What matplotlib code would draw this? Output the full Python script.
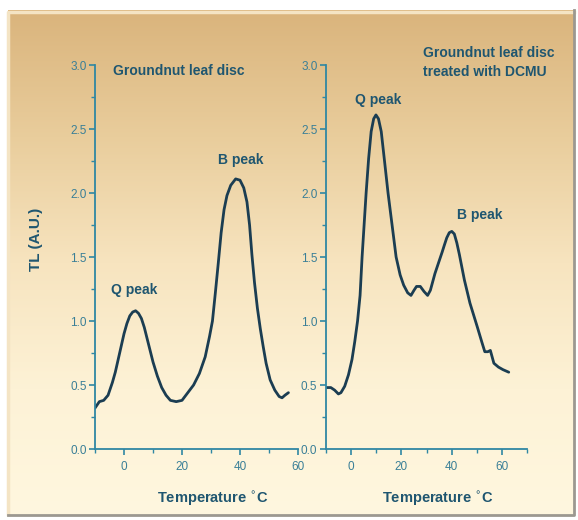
import numpy as np
import matplotlib
matplotlib.use("Agg")
import matplotlib.pyplot as plt
from matplotlib.ticker import MultipleLocator
from matplotlib.colors import LinearSegmentedColormap

plt.rcParams["font.family"] = ["Liberation Sans", "DejaVu Sans"]

# Thermoluminescence glow curves: temperature (°C) vs TL (arbitrary units)
temp_control = [-10, -8.5, -7, -5.5, -4, -3, -2, -1, 0, 1, 2, 3, 4, 5, 6, 7, 8,
                9, 10, 11.5, 13, 14.5, 16, 18, 20, 22, 24, 26, 28, 29.5, 30.5,
                31.5, 32.5, 33.5, 34.5, 35.5, 36.8, 38.5, 40, 41.3, 42.4, 43.3,
                44.1, 45, 46, 47, 48, 49, 50.4, 52, 53.5, 54.5, 55.5, 56.7]
tl_control = [0.32, 0.37, 0.38, 0.42, 0.52, 0.60, 0.70, 0.80, 0.90, 0.98, 1.04,
              1.07, 1.08, 1.06, 1.02, 0.95, 0.86, 0.77, 0.68, 0.57, 0.48, 0.42,
              0.38, 0.37, 0.38, 0.44, 0.50, 0.59, 0.72, 0.88, 1.00, 1.22, 1.45,
              1.69, 1.87, 1.98, 2.06, 2.11, 2.10, 2.04, 1.93, 1.75, 1.52, 1.30,
              1.10, 0.94, 0.80, 0.67, 0.54, 0.46, 0.41, 0.40, 0.42, 0.44]

temp_dcmu = [-10, -8, -6.5, -5, -4, -2.5, -1, 0.4, 1.5, 2.6, 3.6, 4.4, 5.2, 6,
             7, 8, 9, 9.9, 10.9, 12, 13.3, 14.7, 16.3, 17.9, 19.5, 20.9, 22.5,
             23.8, 25, 26, 27.5, 29, 30.4, 31.5, 33.3, 35, 36.2, 37, 38, 39, 40,
             41, 42, 43, 44, 45, 47.2, 50.1, 52, 53.1, 54.3, 55.3, 56.7, 58.5,
             60.3, 62.6]
tl_dcmu = [0.48, 0.48, 0.46, 0.43, 0.44, 0.49, 0.58, 0.70, 0.84, 1.00, 1.20,
           1.50, 1.75, 2.00, 2.27, 2.48, 2.58, 2.61, 2.58, 2.48, 2.25, 2.00,
           1.75, 1.50, 1.36, 1.28, 1.22, 1.20, 1.24, 1.27, 1.27, 1.23, 1.20,
           1.24, 1.37, 1.47, 1.54, 1.59, 1.65, 1.69, 1.70, 1.68, 1.61, 1.52,
           1.42, 1.32, 1.14, 0.955, 0.83, 0.76, 0.76, 0.77, 0.67, 0.64, 0.62,
           0.60]

y_ticks = [0.0, 0.5, 1.0, 1.5, 2.0, 2.5, 3.0]
x_ticks = [0, 20, 40, 60]

W, H = 578, 520
fig = plt.figure(figsize=(W / 100, H / 100), dpi=100)
fig.patch.set_facecolor("white")

# Warm gradient backdrop panel
bg = fig.add_axes([8 / W, (H - 516) / H, 566 / W, 506 / H], zorder=0)
cmap = LinearSegmentedColormap.from_list(
    "warm", ["#dab47c", "#e9cd9c", "#f7e4bf", "#fdf2d6", "#fff7df"])
grad = np.linspace(0, 1, 256)[:, None]
bg.imshow(grad, aspect="auto", cmap=cmap, extent=[0, 1, 0, 1], origin="upper")
bg.set_xlim(0, 1)
bg.set_ylim(0, 1)
bg.axis("off")
bg.plot([0, 0, 1], [0.003, 0.997, 0.997], color="#f4e4c4", lw=2.5,
        transform=bg.transAxes, clip_on=False)
bg.plot([0, 1, 1], [0.002, 0.002, 1], color="#9c9890", lw=2.0,
        transform=bg.transAxes, clip_on=False)

axis_col = "#2f87a3"
tick_col = "#3a7f97"
text_col = "#1f5670"
line_col = "#1b3d52"


def style(ax, xmax):
    ax.set_facecolor("none")
    ax.set_xlim(-10, xmax)
    ax.set_ylim(0, 3.0)
    for s in ("top", "right"):
        ax.spines[s].set_visible(False)
    for s in ("left", "bottom"):
        ax.spines[s].set_color(axis_col)
        ax.spines[s].set_linewidth(1.3)
    ax.set_yticks(y_ticks)
    ax.set_yticklabels([f"{v:.1f}" for v in y_ticks])
    ax.set_xticks(x_ticks)
    ax.yaxis.set_minor_locator(MultipleLocator(0.25))
    ax.xaxis.set_minor_locator(MultipleLocator(10))
    ax.tick_params(which="major", direction="out", length=4, width=1.2,
                   color=axis_col, labelcolor=tick_col, labelsize=8.5, pad=2)
    ax.tick_params(which="minor", direction="out", length=3, width=1.0,
                   color=axis_col)
    ax.tick_params(axis="x", which="major", pad=5)
    ax.set_xlabel("Temperature $^{\\circ}$C", fontsize=10.5,
                  fontweight="bold", color=text_col)


ax1 = fig.add_axes([95 / W, (H - 449) / H, 203 / W, 384 / H], zorder=2)
style(ax1, 60)
ax1.xaxis.set_label_coords(0.58, -0.105)
ax1.plot(temp_control, tl_control, color=line_col, lw=2.0,
         solid_joinstyle="round", solid_capstyle="round")
ax1.set_ylabel("TL (A.U.)", fontsize=11, fontweight="bold", color=text_col)
ax1.yaxis.set_label_coords(-0.255, 0.545)
ax1.text(-3.8, 2.95, "Groundnut leaf disc", fontsize=10, fontweight="bold",
         color=text_col, ha="left", va="center")
ax1.text(40.3, 2.26, "B peak", fontsize=10, fontweight="bold", color=text_col,
         ha="center", va="center")
ax1.text(3.6, 1.24, "Q peak", fontsize=10, fontweight="bold", color=text_col,
         ha="center", va="center")

ax2 = fig.add_axes([325.8 / W, (H - 449) / H, 201.6 / W, 384 / H], zorder=2)
style(ax2, 70)
ax2.xaxis.set_label_coords(0.555, -0.105)
ax2.plot(temp_dcmu, tl_dcmu, color=line_col, lw=2.0,
         solid_joinstyle="round", solid_capstyle="round")
ax2.text(28.6, 3.02, "Groundnut leaf disc\ntreated with DCMU", fontsize=10,
         fontweight="bold", color=text_col, ha="left", va="center",
         linespacing=1.45, clip_on=False)
ax2.text(10.6, 2.73, "Q peak", fontsize=10, fontweight="bold", color=text_col,
         ha="center", va="center")
ax2.text(50.9, 1.83, "B peak", fontsize=10, fontweight="bold", color=text_col,
         ha="center", va="center")

fig.savefig("out.png", dpi=100, facecolor=fig.get_facecolor())
